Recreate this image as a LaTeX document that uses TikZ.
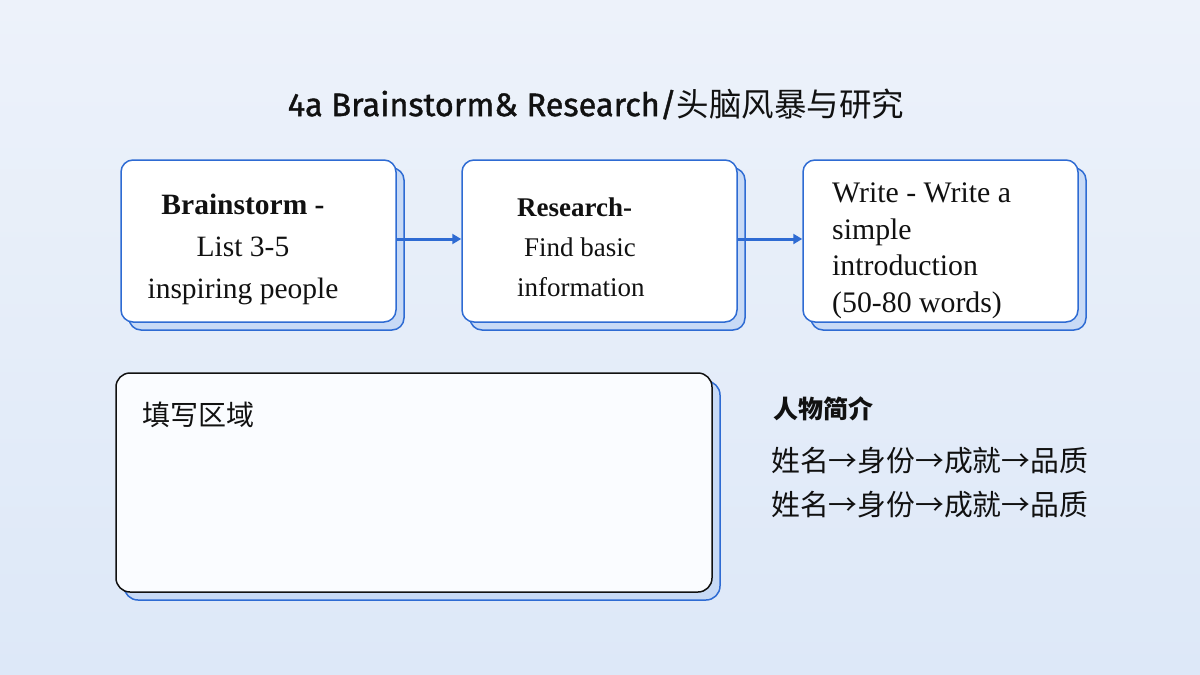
\documentclass[tikz,border=0pt]{standalone}
\usepackage{fontspec}
\setmainfont{Liberation Serif}
\newfontfamily\cjk{Noto Sans CJK SC}
\newfontfamily\titlefont{Fira Sans}[FakeBold=1.2]
\usetikzlibrary{shadows,arrows.meta}
\definecolor{boxblue}{HTML}{2E6BD3}
\definecolor{shadowfill}{HTML}{C8DAF6}
\definecolor{bgtop}{HTML}{EDF2FA}
\definecolor{bgmid}{HTML}{FAFBFE}
\definecolor{bgbot}{HTML}{DDE8F8}
\definecolor{areafill}{HTML}{FAFCFF}
\definecolor{inkdark}{HTML}{111111}
\tikzset{
  stepbox/.style={draw=boxblue, line width=1.5pt, fill=white, rounded corners=12pt,
    minimum width=275pt, minimum height=162pt, inner sep=0pt,
    copy shadow={shadow xshift=8pt, shadow yshift=-8pt, fill=shadowfill, draw=boxblue, line width=1.5pt}},
  areabox/.style={draw=inkdark, line width=1.5pt, fill=areafill, rounded corners=14pt,
    minimum width=596pt, minimum height=219pt, inner sep=0pt,
    copy shadow={shadow xshift=8pt, shadow yshift=-8pt, fill=shadowfill, draw=boxblue, line width=1.5pt}},
  flow/.style={draw=boxblue, line width=3pt, -{Triangle[length=9pt,width=10pt]}},
  txt/.style={inner sep=0pt, text=inkdark}
}
\begin{document}
\begin{tikzpicture}[x=1pt,y=-1pt]
\useasboundingbox (0,0) rectangle (1200,675);
\shade[top color=bgtop, middle color=bgmid, bottom color=bgbot] (0,0) rectangle (1200,675);

\node[txt, font=\titlefont\fontsize{32.5}{38}\selectfont] (title) at (596,104) {4a Brainstorm\& Research/{\cjk 头脑风暴与研究}};

\node[stepbox] (b1) at (258.5,241) {};
\node[stepbox] (b2) at (599.5,241) {};
\node[stepbox] (b3) at (940.5,241) {};

\draw[flow] ([yshift=2pt]b1.east) -- ([yshift=2pt]b2.west);
\draw[flow] ([yshift=2pt]b2.east) -- ([yshift=2pt]b3.west);

\node[txt, font=\fontsize{29.5}{42}\selectfont, align=center] (t1) at (243,249)
  {\textbf{Brainstorm -}\\List 3-5\\inspiring people};
\node[txt, font=\fontsize{27}{40}\selectfont, align=left, anchor=west] (t2) at (517,247)
  {\textbf{Research-}\\\hspace*{7pt}Find basic\\information};
\node[txt, font=\fontsize{29.8}{36.5}\selectfont, align=left, anchor=west] (t3) at (832,251)
  {Write - Write a\\simple\\introduction\\(50-80 words)};

\node[areabox] (area) at (414,482.5) {};
\node[txt, font=\cjk\fontsize{28}{34}\selectfont, anchor=west] (fillt) at (142,415) {填写区域};

\node[txt, font=\cjk\bfseries\fontsize{25}{30}\selectfont, anchor=west] (intro) at (773,409) {人物简介};
\node[txt, font=\cjk\fontsize{28.8}{34}\selectfont, anchor=west] (line1) at (771,461) {姓名→身份→成就→品质};
\node[txt, font=\cjk\fontsize{28.8}{34}\selectfont, anchor=west] (line2) at (771,505) {姓名→身份→成就→品质};
\end{tikzpicture}
\end{document}
